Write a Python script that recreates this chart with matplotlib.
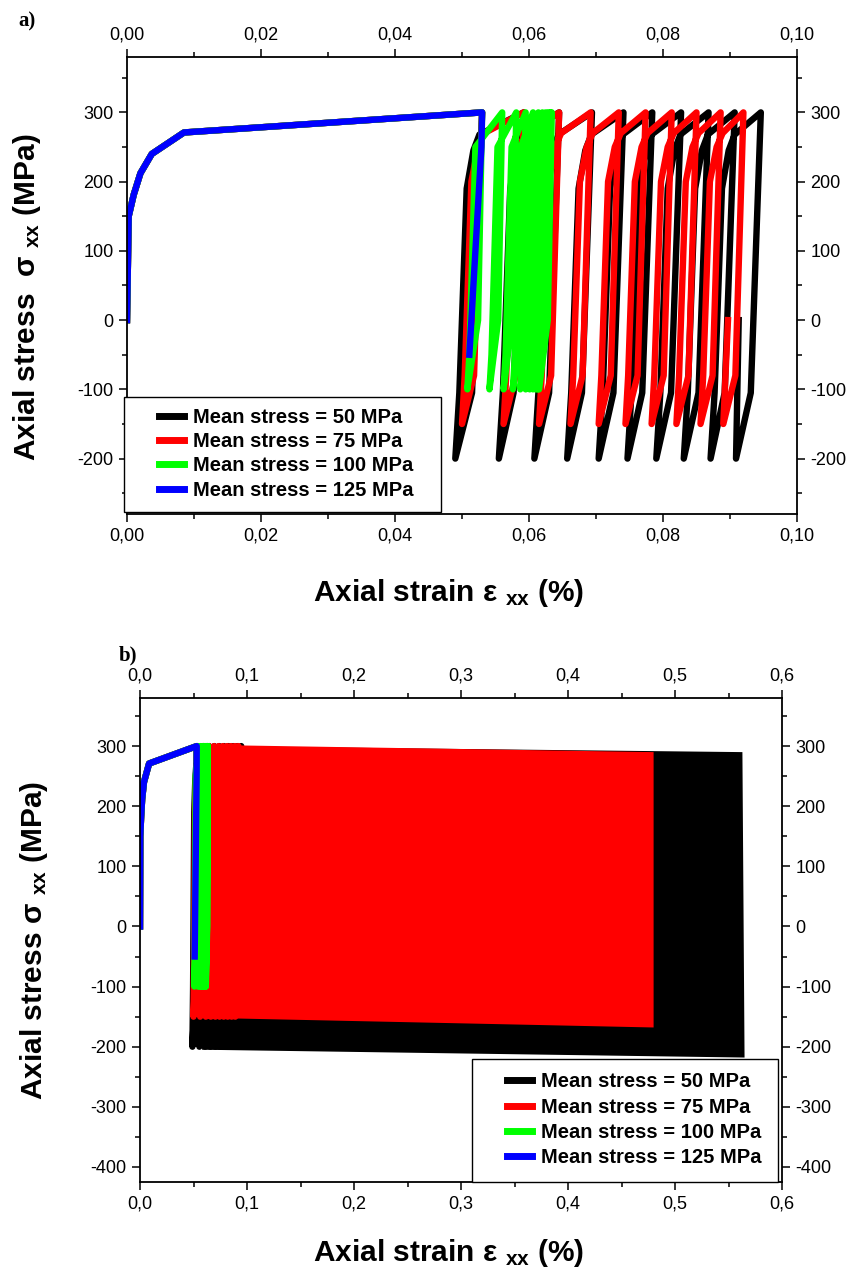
import matplotlib
matplotlib.use('Agg')
import matplotlib.pyplot as plt
from matplotlib.ticker import MultipleLocator, FuncFormatter
from matplotlib.patches import Rectangle
from matplotlib.lines import Line2D

plt.rcParams['font.family'] = ['Liberation Sans', 'DejaVu Sans']
plt.rcParams['mathtext.fontset'] = 'custom'
plt.rcParams['mathtext.rm'] = 'Liberation Sans'
plt.rcParams['mathtext.bf'] = 'Liberation Sans:bold'
plt.rcParams['mathtext.it'] = 'Liberation Sans:italic'

# ---- data ----
# monotonic loading, shared by every mean stress
mono_strain = [0.0, 0.00025, 0.001, 0.002, 0.0037, 0.0085, 0.053]
mono_stress = [0, 150, 181, 212, 240, 271, 300]

# mean stress 50 MPa (300 / -200)
bot_50 = [0.0490, 0.0555, 0.0608, 0.0657, 0.0704, 0.0747, 0.0790, 0.0831, 0.0871, 0.0909]
top_50 = [0.0592, 0.0645, 0.0694, 0.0741, 0.0784, 0.0827, 0.0868, 0.0907, 0.0946]
unload_50 = [(0.0015, -105)]
load_50 = [(0.0006, -105), (0.0017, 190), (0.0027, 245), (0.0036, 268)]
end_50 = (0.0913, 0)

# mean stress 75 MPa (300 / -150)
bot_75 = [0.0500, 0.0562, 0.0615, 0.0662, 0.0704, 0.0744, 0.0783, 0.0820, 0.0856, 0.0890]
top_75 = [0.0592, 0.0645, 0.0692, 0.0734, 0.0774, 0.0813, 0.0850, 0.0886, 0.0920]
unload_75 = [(0.0012, -80)]
load_75 = [(0.0004, -80), (0.0014, 200), (0.0024, 250), (0.0033, 270)]
end_75 = (0.0897, 0)

# mean stress 100 MPa (300 / -100)
bot_100 = [0.0508, 0.0541, 0.0562, 0.0576, 0.0587, 0.0595, 0.0601, 0.0606, 0.0610, 0.0613, 0.0615]
top_100 = [0.0560, 0.0581, 0.0595, 0.0606, 0.0614, 0.0620, 0.0625, 0.0629, 0.0632, 0.0634]
unload_100 = [(0.0006, 0)]
load_100 = [(0.0003, -50), (0.0012, 250)]
end_100 = (0.0617, 0)

# mean stress 125 MPa (300 / -50)
tail_125_strain = [0.0529, 0.0511]
tail_125_stress = [250, -50]

# panel b: envelopes of the many cycles
env_50_strain = [0.058, 0.563, 0.565, 0.058]
env_50_stress = [300, 290, -218, -205]
env_75_strain = [0.062, 0.480, 0.480, 0.062]
env_75_stress = [302, 290, -168, -152]

labels = ['Mean stress = 50 MPa', 'Mean stress = 75 MPa',
          'Mean stress = 100 MPa', 'Mean stress = 125 MPa']
colors = ['#000000', '#ff0000', '#00ff00', '#0000ff']


def path(bots, tops, unload, load, smin, end):
    x = list(mono_strain)
    y = list(mono_stress)
    prev = mono_strain[-1]
    for i, b in enumerate(bots):
        for dx, s in unload:
            x.append(prev - dx); y.append(s)
        x.append(b); y.append(smin)
        if i < len(tops):
            for dx, s in load:
                x.append(b + dx); y.append(s)
            x.append(tops[i]); y.append(300)
            prev = tops[i]
    x.append(end[0]); y.append(end[1])
    return x, y


x50, y50 = path(bot_50, top_50, unload_50, load_50, -200, end_50)
x75, y75 = path(bot_75, top_75, unload_75, load_75, -150, end_75)
x100, y100 = path(bot_100, top_100, unload_100, load_100, -100, end_100)
x125 = mono_strain + tail_125_strain
y125 = mono_stress + tail_125_stress

fig = plt.figure(figsize=(8.48, 12.68), dpi=100)
ax1 = fig.add_axes([127 / 848, 1 - 514 / 1268, 670 / 848, 457 / 1268])
ax2 = fig.add_axes([140 / 848, 1 - 1182 / 1268, 642 / 848, 484 / 1268])

lw = 4.6
for ax in (ax1, ax2):
    ax.plot(x50, y50, color=colors[0], lw=lw, zorder=2)
    if ax is ax2:
        ax.fill(env_50_strain, env_50_stress, color=colors[0], lw=0, zorder=2.1)
    ax.plot(x75, y75, color=colors[1], lw=lw, zorder=2.2)
    if ax is ax2:
        ax.fill(env_75_strain, env_75_stress, color=colors[1], lw=0, zorder=2.3)
    ax.plot(x100, y100, color=colors[2], lw=lw, zorder=2.4)
    ax.plot(x125, y125, color=colors[3], lw=lw, zorder=2.5)

ax1.set_xlim(0, 0.10)
ax1.set_ylim(-280, 380)
ax2.set_xlim(0, 0.6)
ax2.set_ylim(-425, 380)

ax1.xaxis.set_major_locator(MultipleLocator(0.02))
ax1.xaxis.set_minor_locator(MultipleLocator(0.01))
ax2.xaxis.set_major_locator(MultipleLocator(0.1))
ax2.xaxis.set_minor_locator(MultipleLocator(0.05))
ax1.xaxis.set_major_formatter(FuncFormatter(lambda v, p: f"{v:.2f}".replace('.', ',')))
ax2.xaxis.set_major_formatter(FuncFormatter(lambda v, p: f"{v:.1f}".replace('.', ',')))
for ax in (ax1, ax2):
    ax.yaxis.set_major_locator(MultipleLocator(100))
    ax.yaxis.set_minor_locator(MultipleLocator(50))
    ax.yaxis.set_major_formatter(FuncFormatter(lambda v, p: f"{int(round(v))}"))
    ax.tick_params(which='both', direction='out', top=True, right=True,
                   labeltop=True, labelright=True, width=1.1, labelsize=13)
    ax.tick_params(which='major', length=6)
    ax.tick_params(which='minor', length=3.5)
    for s in ax.spines.values():
        s.set_linewidth(1.3)

xlab = 'Axial strain \u03b5 $_{\\mathbf{xx}}$ (%)'
ax1.set_xlabel(xlab, fontsize=21.5, fontweight='bold')
ax1.xaxis.set_label_coords(0.48, -0.138)
ax1.set_ylabel('Axial stress  \u03c3 $_{\\mathbf{xx}}$ (MPa)', fontsize=21.5, fontweight='bold')
ax1.yaxis.set_label_coords(-0.125, 0.475)
ax2.set_xlabel(xlab, fontsize=21.5, fontweight='bold')
ax2.xaxis.set_label_coords(0.481, -0.113)
ax2.set_ylabel('Axial stress \u03c3 $_{\\mathbf{xx}}$ (MPa)', fontsize=21.5, fontweight='bold')
ax2.yaxis.set_label_coords(-0.14, 0.5)

handles = [Line2D([], [], color=c, lw=5) for c in colors]


def legend_box(ax, x0, y0, x1, y1, anchor, spacing):
    ax.add_patch(Rectangle((x0, y0), x1 - x0, y1 - y0, transform=ax.transAxes,
                           fill=True, facecolor='white', edgecolor='black',
                           lw=1.0, clip_on=False, zorder=5))
    leg = ax.legend(handles, labels, loc='upper left', bbox_to_anchor=anchor,
                    frameon=False, prop={'weight': 'bold', 'size': 14.5},
                    handlelength=1.25, handletextpad=0.45, labelspacing=spacing,
                    borderaxespad=0, borderpad=0)
    leg.set_zorder(6)


legend_box(ax1, -0.004, 0.004, 0.468, 0.256, (0.048, 0.232), 0.26)
legend_box(ax2, 0.517, 0.0, 0.994, 0.254, (0.572, 0.227), 0.32)

fig.text(27 / 848, 1 - 21 / 1268, 'a)', family='Liberation Serif', fontweight='bold',
         fontsize=15, ha='center', va='center')
fig.text(128 / 848, 1 - 655 / 1268, 'b)', family='Liberation Serif', fontweight='bold',
         fontsize=15, ha='center', va='center')

fig.savefig('out.png', dpi=100)
